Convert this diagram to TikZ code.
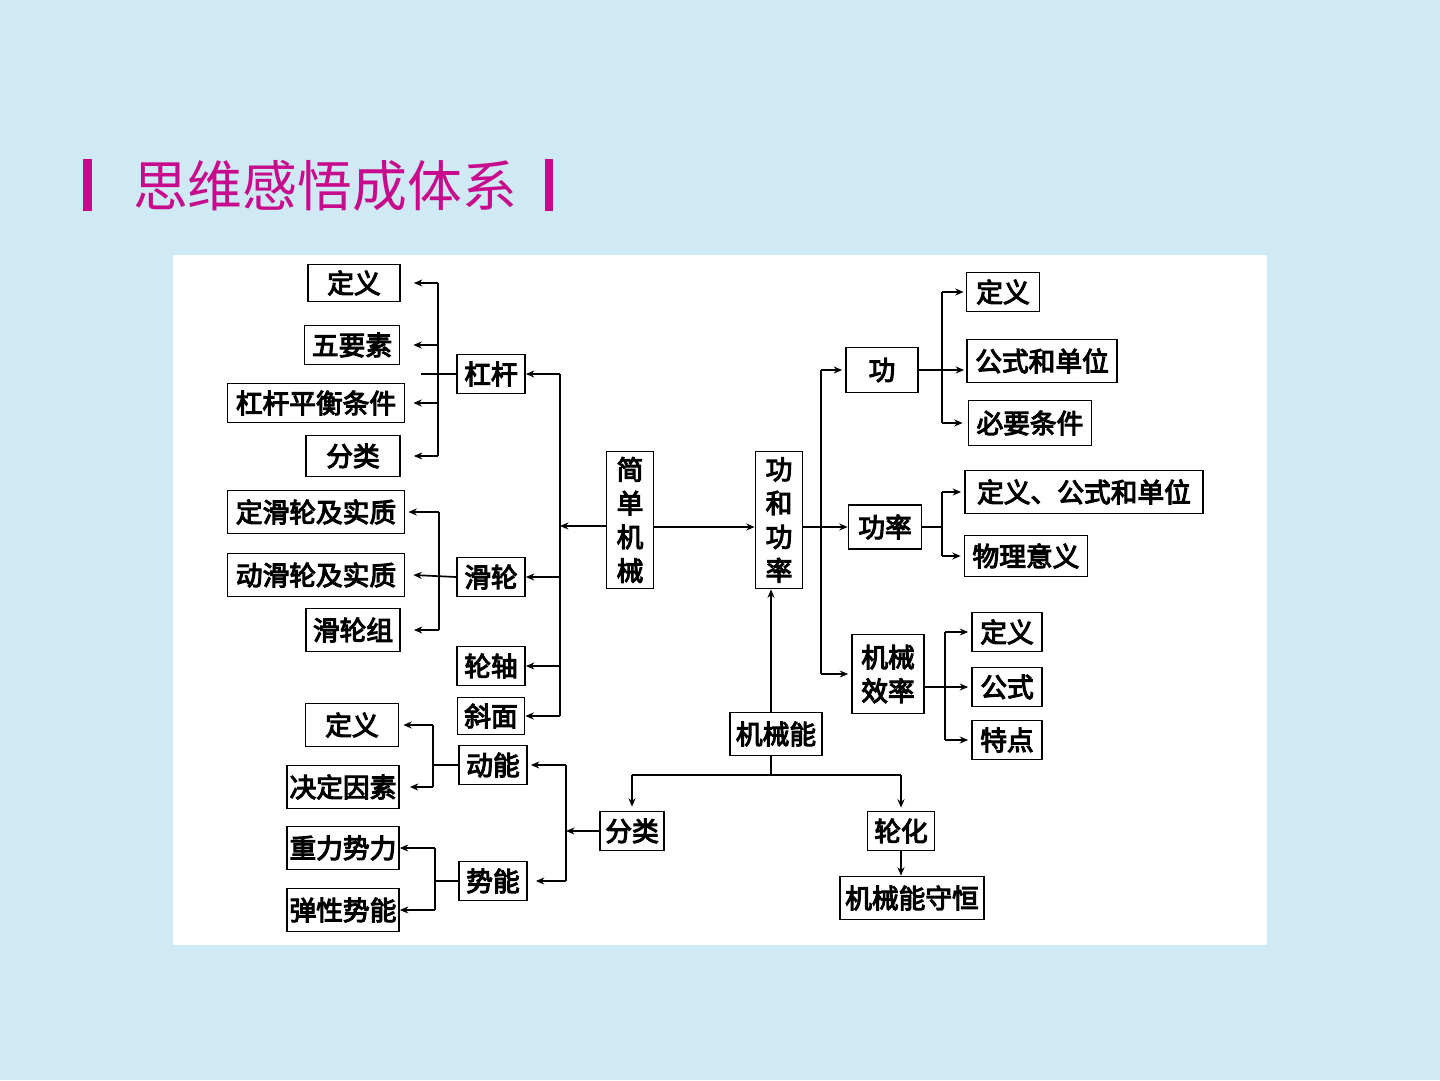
\documentclass[tikz,border=0pt]{standalone}
\usepackage{fontspec}
\usepackage{xcolor}
\usepackage{tikz}
\usetikzlibrary{arrows.meta,calc}

\newfontfamily\cjk{Noto Sans CJK SC}
\newfontfamily\cjkb[FakeBold=4]{Noto Sans CJK SC}
\definecolor{bgblue}{RGB}{207,233,245}
\definecolor{titlemag}{RGB}{200,10,140}

\begin{document}
\begin{tikzpicture}[
  x=0.025cm, y=-0.025cm,
  box/.style={draw, line width=1.2pt, fill=white, inner sep=0pt,
              minimum height=0.975cm, align=center,
              font={\cjkb\fontsize{19pt}{24pt}\selectfont}},
  arr/.style={-{Stealth[length=6pt,width=5pt]}, line width=1.2pt},
  ln/.style={line width=1.2pt},
]

%% --- Background ---
\fill[bgblue] (0,0) rectangle (1440,1080);
\fill[white] (173,255) rectangle (1267,945);

%% --- Title ---
\fill[titlemag] (83,159) rectangle (92,211);
\fill[titlemag] (545,159) rectangle (553,211);
\node[text=titlemag, font={\cjk\fontsize{39pt}{44pt}\selectfont}] (title) at (325,186) {思维感悟成体系};

%% --- Nodes: 简单机械 ---
\node[box, minimum width=1.175cm, minimum height=3.425cm] (jdjx) at (630,520) {简\\单\\机\\械};
\node[box, minimum width=1.7cm]  (gg) at (491,374) {杠杆};
\node[box, minimum width=1.7cm]  (hl) at (491,577) {滑轮};
\node[box, minimum width=1.7cm]  (lz) at (491,666) {轮轴};
\node[box, minimum width=1.675cm, minimum height=0.925cm] (xm) at (491,716) {斜面};

\node[box, minimum width=2.3cm, minimum height=0.925cm] (lDef) at (354,283) {定义};
\node[box, minimum width=2.375cm] (lWu) at (352,345) {五要素};
\node[box, minimum width=4.425cm] (lPh) at (316,403) {杠杆平衡条件};
\node[box, minimum width=2.35cm, minimum height=1.025cm] (lFl) at (353,456) {分类};

\node[box, minimum width=4.425cm, minimum height=1.075cm] (hDing) at (316,512) {定滑轮及实质};
\node[box, minimum width=4.425cm, minimum height=1.075cm] (hDong) at (316,575) {动滑轮及实质};
\node[box, minimum width=2.35cm, minimum height=1.075cm]  (hZu)   at (353,630) {滑轮组};

%% --- Nodes: 功和功率 ---
\node[box, minimum width=1.175cm, minimum height=3.425cm] (ghgl) at (779,520) {功\\和\\功\\率};
\node[box, minimum width=1.8cm, minimum height=1.125cm] (g)  at (882,370) {功};
\node[box, minimum width=1.825cm, minimum height=1.1cm] (gl) at (885,527) {功率};
\node[box, minimum width=1.8cm, minimum height=1.975cm] (xl) at (888,674) {机械\\效率};

\node[box, minimum width=1.825cm] (gDef) at (1003,292) {定义};
\node[box, minimum width=3.75cm, minimum height=1.075cm] (gGs) at (1042,361) {公式和单位};
\node[box, minimum width=3.075cm, minimum height=1.125cm] (gBy) at (1030,423) {必要条件};
\node[box, minimum width=5.95cm, minimum height=1.075cm] (glDef) at (1084,492) {定义、公式和单位};
\node[box, minimum width=3.075cm, minimum height=1.025cm] (glYy) at (1026,556) {物理意义};
\node[box, minimum width=1.75cm] (xDef) at (1007,632) {定义};
\node[box, minimum width=1.75cm] (xGs)  at (1007,687) {公式};
\node[box, minimum width=1.75cm] (xTd)  at (1007,740) {特点};

%% --- Nodes: 机械能 ---
\node[box, minimum width=2.3cm, minimum height=1.075cm] (jxn) at (776,734) {机械能};
\node[box, minimum width=1.6cm]   (fl) at (632,831) {分类};
\node[box, minimum width=1.675cm] (zh) at (901,831) {轮化};
\node[box, minimum width=3.6cm, minimum height=1.075cm] (sh) at (912,898) {机械能守恒};
\node[box, minimum width=1.7cm] (dn) at (493,765) {动能};
\node[box, minimum width=1.7cm] (sn) at (493,881) {势能};
\node[box, minimum width=2.325cm, minimum height=1.075cm] (dDef) at (352,725) {定义};
\node[box, minimum width=2.8cm, minimum height=1.075cm]   (dYs)  at (343,787) {决定因素};
\node[box, minimum width=2.8cm, minimum height=1.075cm]   (sZl)  at (343,848) {重力势力};
\node[box, minimum width=2.8cm, minimum height=1.075cm]   (sTx)  at (343,910) {弹性势能};

%% --- Branch points ---
\coordinate (vjd) at (560,526);
\coordinate (vgg) at (438,374);
\coordinate (vhl) at (439,577);
\coordinate (vgl) at (821,527);
\coordinate (vg)  at (942,370);
\coordinate (vgp) at (942,527);
\coordinate (vx)  at (945,687);
\coordinate (hj)  at (771,775);
\coordinate (vfl) at (566,831);
\coordinate (vdn) at (433,765);
\coordinate (vsn) at (435,881);

%% --- Arrows: 简单机械 ---
\draw[arr] (jdjx.west |- vjd) -- (vjd);
\draw[ln] (vjd |- gg) -- (vjd |- xm);
\draw[arr] (vjd |- gg) -- (gg.east);
\draw[arr] (vjd |- hl) -- (hl.east);
\draw[arr] (vjd |- lz) -- (lz.east);
\draw[arr] (vjd |- xm) -- (xm.east);

\draw[ln] (gg.west) -- ($(vgg)+(-17,0)$);
\draw[ln] (vgg |- lDef) -- (vgg |- lFl);
\draw[arr] (vgg |- lDef) -- ($(lDef.east)+(13,0)$);
\draw[arr] (vgg |- lWu)  -- ($(lWu.east)+(13,0)$);
\draw[arr] (vgg |- lPh)  -- ($(lPh.east)+(8,0)$);
\draw[arr] (vgg |- lFl)  -- ($(lFl.east)+(13,0)$);

\draw[arr] (hl.west) -- ($(hDong.east)+(8,0)$);
\draw[ln] (vhl |- hDing) -- (vhl |- hZu);
\draw[arr] (vhl |- hDing) -- ($(hDing.east)+(3,0)$);
\draw[arr] (vhl |- hZu)   -- ($(hZu.east)+(13,0)$);

%% --- Arrows: 功和功率 ---
\draw[arr] (jdjx.east |- vgl) -- (ghgl.west |- vgl);
\draw[arr] (ghgl.east |- gl) -- (gl.west);
\draw[ln] (vgl |- g) -- (vgl |- xl);
\draw[arr] (vgl |- g)  -- ($(g.west)+(-3,0)$);
\draw[arr] (vgl |- xl) -- ($(xl.west)+(-3,0)$);

\draw[ln] (g.east) -- (vg);
\draw[ln] (vg |- gDef) -- (vg |- gBy);
\draw[arr] (vg |- gDef) -- ($(gDef.west)+(-2,0)$);
\draw[arr] (vg) -- ($(gGs.west |- vg)+(-2,0)$);
\draw[arr] (vg |- gBy) -- ($(gBy.west)+(-5,0)$);

\draw[ln] (gl.east) -- (vgp);
\draw[ln] (vgp |- glDef) -- (vgp |- glYy);
\draw[arr] (vgp |- glDef) -- ($(glDef.west)+(-3,0)$);
\draw[arr] (vgp |- glYy)  -- ($(glYy.west)+(-3,0)$);

\draw[arr] (xl.east |- xGs) -- ($(xGs.west)+(-3,0)$);
\draw[ln] (vx |- xDef) -- (vx |- xTd);
\draw[arr] (vx |- xDef) -- ($(xDef.west)+(-3,0)$);
\draw[arr] (vx |- xTd)  -- ($(xTd.west)+(-3,0)$);

%% --- Arrows: 机械能 ---
\draw[arr] (jxn.north -| hj) -- (hj |- ghgl.south);
\draw[ln] (jxn.south -| hj) -- (hj);
\draw[ln] (fl.north |- hj) -- (zh.north |- hj);
\draw[arr] (fl.north |- hj) -- ($(fl.north)+(0,-4)$);
\draw[arr] (zh.north |- hj) -- ($(zh.north)+(0,-3)$);
\draw[arr] (zh.south) -- (zh.south |- sh.north);

\draw[arr] (fl.west) -- (vfl);
\draw[ln] (vfl |- dn) -- (vfl |- sn);
\draw[arr] (vfl |- dn) -- ($(dn.east)+(3,0)$);
\draw[arr] (vfl |- sn) -- ($(sn.east)+(8,0)$);

\draw[ln] (dn.west) -- (vdn);
\draw[ln] (vdn |- dDef) -- (vdn |- dYs);
\draw[arr] (vdn |- dDef) -- ($(dDef.east)+(4,0)$);
\draw[arr] (vdn |- dYs)  -- ($(dYs.east)+(10,0)$);

\draw[ln] (sn.west) -- (vsn);
\draw[ln] (vsn |- sZl) -- (vsn |- sTx);
\draw[arr] (vsn |- sZl) -- (sZl.east);
\draw[arr] (vsn |- sTx) -- (sTx.east);

\end{tikzpicture}
\end{document}
